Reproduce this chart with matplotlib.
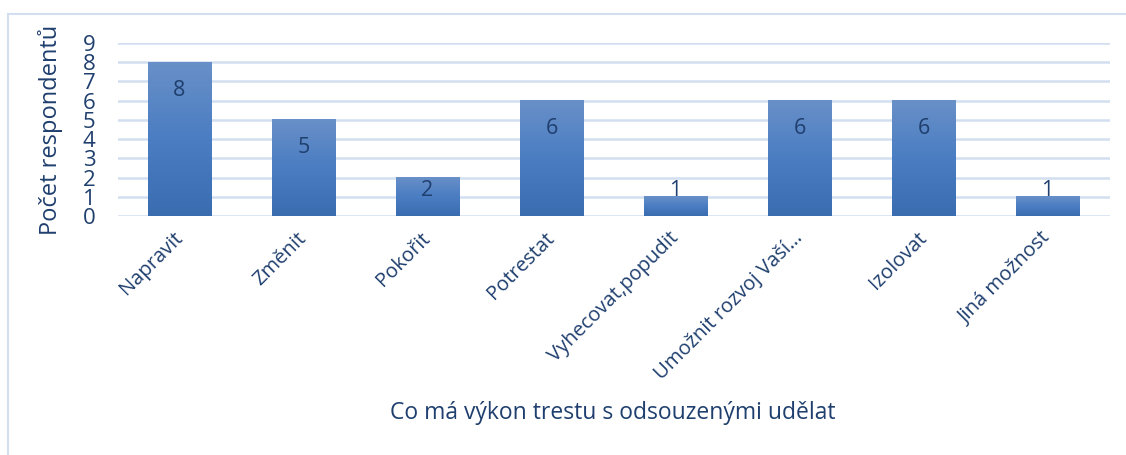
import numpy as np
import matplotlib.pyplot as plt
from matplotlib.patches import Rectangle
from matplotlib.colors import LinearSegmentedColormap

categories = ["Napravit", "Změnit", "Pokořit", "Potrestat", "Vyhecovat,popudit",
              "Umožnit rozvoj Vaší…", "Izolovat", "Jiná možnost"]
values = [8, 5, 2, 6, 1, 6, 6, 1]
y_ticks = list(range(0, 10))

TEXT = "#1F3F6E"
GRID = "#D3DFF0"

plt.rcParams['font.family'] = ['Open Sans', 'DejaVu Sans']

fig = plt.figure(figsize=(11.26, 4.55), dpi=100)
ax = fig.add_axes([0.1044, 0.5253, 0.881, 0.3802])

# outer chart border
fig.patches.append(Rectangle((8 / 1126, -0.01), 1.1, (455 - 14) / 455 + 0.01,
                             transform=fig.transFigure, fill=False,
                             edgecolor=GRID, linewidth=1.5))

x = np.arange(len(categories))
width = 0.51
cmap = LinearSegmentedColormap.from_list("bar", ["#3A6CB0", "#4A7DC2", "#6990C8"])
grad = np.linspace(0, 1, 256).reshape(-1, 1)

for i, v in enumerate(values):
    ax.imshow(grad, cmap=cmap, aspect='auto', origin='lower',
              extent=[x[i] - width / 2, x[i] + width / 2, 0, v], zorder=3)
    ly = max(v - 1.45, 1.35)
    ax.text(x[i], ly, str(v), ha='center', va='center', fontsize=15.5,
            color=TEXT, zorder=4)

ax.set_xlim(-0.5, len(categories) - 0.5)
ax.set_ylim(0, 9)
ax.set_yticks(y_ticks)
ax.set_yticklabels([str(t) for t in y_ticks], fontsize=16, color=TEXT)
for t in y_ticks:
    ax.axhline(t, color=GRID, linewidth=1.8, zorder=1)

ax.set_xticks(x)
ax.set_xticklabels(categories, rotation=45, ha='right', va='center',
                   rotation_mode='anchor', fontsize=14.5, color=TEXT)
ax.tick_params(axis='x', length=0, pad=14)
ax.tick_params(axis='y', length=0, pad=16)
for s in ax.spines.values():
    s.set_visible(False)

ax.set_ylabel("Počet respondentů", fontsize=17, color=TEXT, labelpad=14)
fig.text(613 / 1126, (455 - 413) / 455, "Co má výkon trestu s odsouzenými udělat",
         ha='center', va='center', fontsize=16.5, color=TEXT)

fig.savefig("out.png", dpi=100)
